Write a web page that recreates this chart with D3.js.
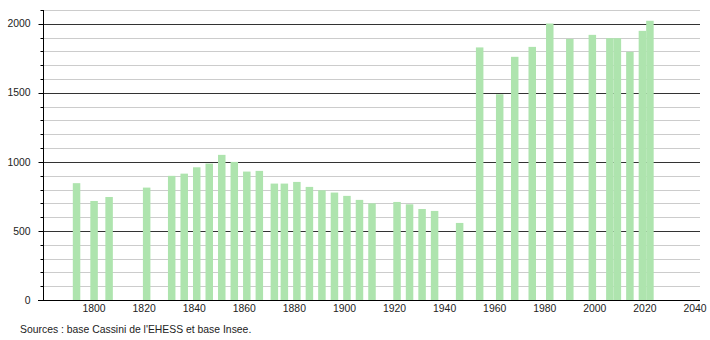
<!DOCTYPE html>
<html>
<head>
<meta charset="utf-8">
<style>
  body { margin: 0; background: #fff; }
  text { font-family: "Liberation Sans", Arial, sans-serif; font-size: 10.4px; fill: #222; }
</style>
</head>
<body>
<script src="https://d3js.org/d3.v7.min.js"></script>
<script>
  var years = [1793, 1800, 1806, 1821, 1831, 1836, 1841, 1846, 1851, 1856, 1861, 1866,
    1872, 1876, 1881, 1886, 1891, 1896, 1901, 1906, 1911, 1921, 1926, 1931, 1936, 1946,
    1954, 1962, 1968, 1975, 1982, 1990, 1999, 2006, 2009, 2014, 2019, 2022];
  var population = [846, 717, 746, 814, 899, 915, 961, 988, 1051, 1000, 930, 935,
    843, 843, 855, 819, 795, 778, 754, 725, 700, 710, 693, 659, 645, 558,
    1829, 1490, 1761, 1833, 2002, 1891, 1920, 1896, 1896, 1797, 1949, 2022];
  var xTicks = [1800, 1820, 1840, 1860, 1880, 1900, 1920, 1940, 1960, 1980, 2000, 2020, 2040];
  var yTicks = [0, 500, 1000, 1500, 2000];
  var source = "Sources : base Cassini de l'EHESS et base Insee.";

  var width = 710, height = 340;
  var plotLeft = 44, plotRight = 700, plotBottom = 300, plotTop = 10;

  var svg = d3.select('body').append('svg')
    .attr('width', width)
    .attr('height', height);

  var x = d3.scaleLinear().domain([1780, 2042]).range([plotLeft, plotRight]);
  var y = d3.scaleLinear().domain([0, 2100]).range([plotBottom, plotTop]);

  // grid
  var grid = d3.range(100, 2101, 100);
  svg.append('g')
    .selectAll('line')
    .data(grid)
    .join('line')
      .attr('x1', plotLeft).attr('x2', plotRight)
      .attr('y1', d => Math.round(y(d)) + 0.5)
      .attr('y2', d => Math.round(y(d)) + 0.5)
      .attr('stroke', d => d % 500 === 0 ? '#333' : '#ccc')
      .attr('stroke-width', 1);

  // bars
  var bw = 7.5;
  svg.append('g')
    .selectAll('rect')
    .data(years)
    .join('rect')
      .attr('x', (d) => x(d) - bw / 2)
      .attr('y', (d, i) => y(population[i]))
      .attr('width', bw)
      .attr('height', (d, i) => plotBottom - y(population[i]))
      .attr('fill', '#aee4ae');

  // y axis
  var yAxis = svg.append('g').attr('transform', 'translate(' + (plotLeft - 0.5) + ',0)');
  yAxis.append('line')
    .attr('y1', plotTop).attr('y2', plotBottom)
    .attr('stroke', '#000');
  yAxis.selectAll('line.tick')
    .data(grid)
    .join('line')
      .attr('class', 'tick')
      .attr('x1', d => d % 500 === 0 ? -5 : -3).attr('x2', 0)
      .attr('y1', d => Math.round(y(d)) + 0.5)
      .attr('y2', d => Math.round(y(d)) + 0.5)
      .attr('stroke', '#000');
  yAxis.selectAll('text')
    .data(yTicks)
    .join('text')
      .attr('x', -13)
      .attr('y', d => y(d))
      .attr('dy', '0.35em')
      .attr('text-anchor', 'end')
      .text(d => d);

  // x axis
  svg.append('line')
    .attr('x1', plotLeft - 6).attr('x2', plotRight)
    .attr('y1', plotBottom + 0.5).attr('y2', plotBottom + 0.5)
    .attr('stroke', '#000');
  svg.append('g')
    .selectAll('text')
    .data(xTicks)
    .join('text')
      .attr('x', d => x(d))
      .attr('y', plotBottom + 12)
      .attr('text-anchor', 'middle')
      .text(d => d);

  svg.append('text')
    .attr('x', 20)
    .attr('y', 333)
    .text(source);
</script>
</body>
</html>
